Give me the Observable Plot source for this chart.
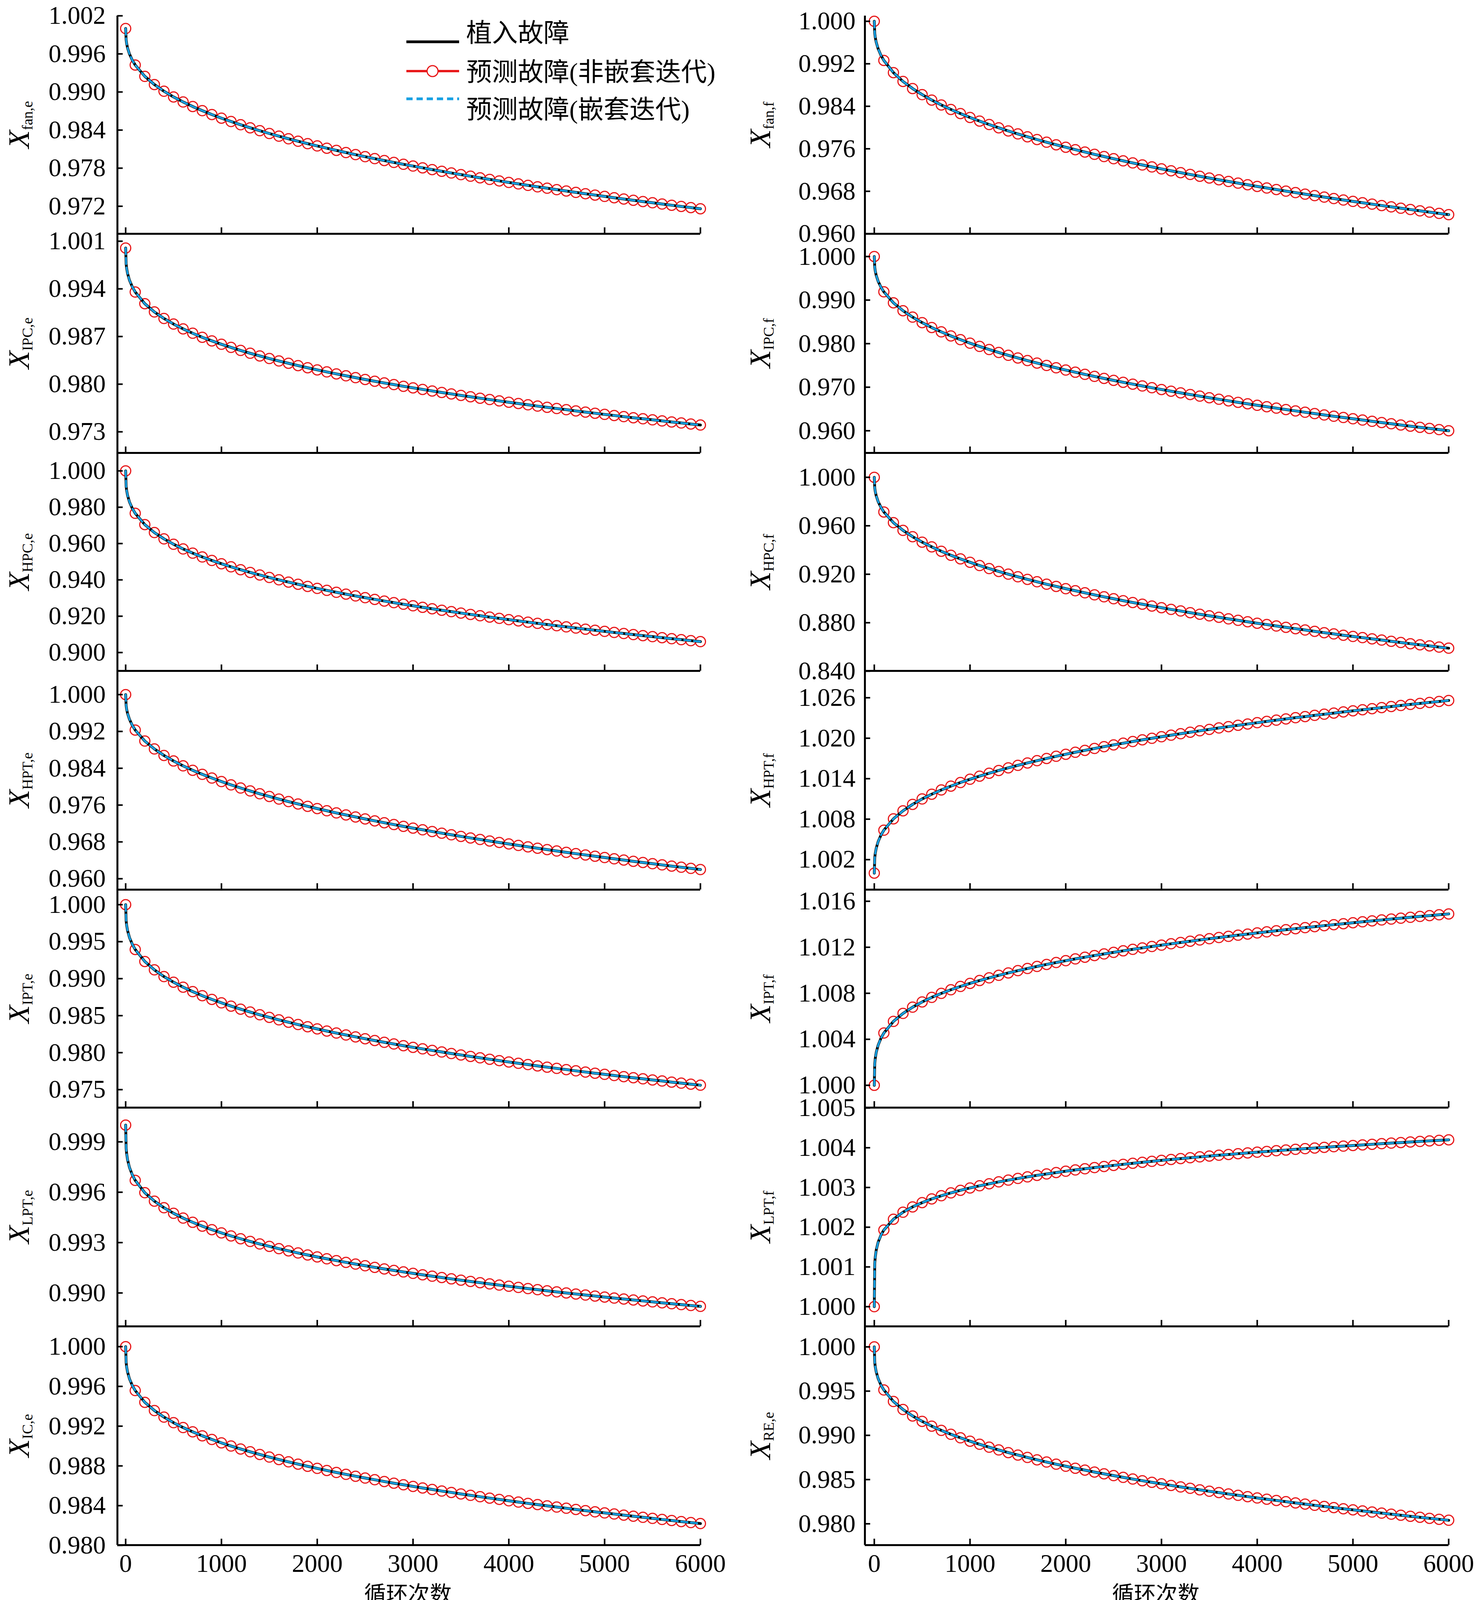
<!DOCTYPE html>
<html>
<head>
<meta charset="utf-8">
<script src="https://cdn.jsdelivr.net/npm/d3@7"></script>
<script src="https://cdn.jsdelivr.net/npm/@observablehq/plot@0.6"></script>
<style>
  html, body { margin: 0; padding: 0; background: #ffffff; overflow: hidden; }
  #chart { position: relative; width: 3780px; height: 4158px; background: #ffffff; overflow: hidden; }
  #chart svg { position: absolute; overflow: visible; }
</style>
</head>
<body>
<div id="chart"></div>
<script>
// ---------- data ----------
const cycles = [0,5,10,20,40,70,
  100,200,300,400,500,600,700,800,900,1000,
  1100,1200,1300,1400,1500,1600,1700,1800,1900,2000,
  2100,2200,2300,2400,2500,2600,2700,2800,2900,3000,
  3100,3200,3300,3400,3500,3600,3700,3800,3900,4000,
  4100,4200,4300,4400,4500,4600,4700,4800,4900,5000,
  5100,5200,5300,5400,5500,5600,5700,5800,5900,6000];

const xTicks = [0,1000,2000,3000,4000,5000,6000];

// left column
const fanE = [1.00000,0.99821,0.99766,0.99693,0.99598,0.99499,
  0.99425,0.99246,0.99117,0.99012,0.98922,0.98843,0.98771,0.98706,0.98645,0.98588,
  0.98535,0.98484,0.98436,0.98390,0.98346,0.98304,0.98263,0.98224,0.98186,0.98150,
  0.98114,0.98080,0.98046,0.98013,0.97981,0.97950,0.97920,0.97890,0.97861,0.97833,
  0.97805,0.97777,0.97751,0.97724,0.97698,0.97673,0.97648,0.97623,0.97599,0.97575,
  0.97552,0.97529,0.97506,0.97484,0.97461,0.97440,0.97418,0.97397,0.97376,0.97355,
  0.97334,0.97314,0.97294,0.97274,0.97255,0.97235,0.97216,0.97197,0.97179,0.97160];
const ipcE = [1.00000,0.99767,0.99705,0.99626,0.99527,0.99428,
  0.99354,0.99182,0.99061,0.98965,0.98883,0.98812,0.98748,0.98689,0.98636,0.98586,
  0.98540,0.98496,0.98454,0.98415,0.98377,0.98341,0.98307,0.98273,0.98241,0.98210,
  0.98180,0.98151,0.98123,0.98096,0.98069,0.98043,0.98018,0.97994,0.97969,0.97946,
  0.97923,0.97900,0.97878,0.97857,0.97835,0.97815,0.97794,0.97774,0.97754,0.97735,
  0.97716,0.97697,0.97678,0.97660,0.97642,0.97625,0.97607,0.97590,0.97573,0.97556,
  0.97540,0.97523,0.97507,0.97492,0.97476,0.97460,0.97445,0.97430,0.97415,0.97400];
const hpcE = [1.00000,0.99156,0.98932,0.98648,0.98289,0.97930,
  0.97664,0.97043,0.96605,0.96257,0.95962,0.95703,0.95472,0.95262,0.95068,0.94889,
  0.94720,0.94561,0.94411,0.94269,0.94133,0.94003,0.93878,0.93758,0.93642,0.93530,
  0.93422,0.93317,0.93215,0.93116,0.93020,0.92926,0.92835,0.92746,0.92659,0.92574,
  0.92490,0.92409,0.92329,0.92251,0.92174,0.92099,0.92025,0.91952,0.91881,0.91811,
  0.91742,0.91674,0.91607,0.91541,0.91476,0.91412,0.91349,0.91287,0.91226,0.91165,
  0.91105,0.91046,0.90988,0.90931,0.90874,0.90818,0.90763,0.90708,0.90654,0.90600];
const hptE = [1.00000,0.99761,0.99686,0.99589,0.99462,0.99330,
  0.99230,0.98991,0.98819,0.98678,0.98558,0.98452,0.98356,0.98268,0.98187,0.98111,
  0.98039,0.97971,0.97907,0.97846,0.97787,0.97731,0.97676,0.97624,0.97573,0.97524,
  0.97477,0.97430,0.97386,0.97342,0.97299,0.97257,0.97217,0.97177,0.97138,0.97100,
  0.97063,0.97026,0.96990,0.96955,0.96920,0.96886,0.96853,0.96820,0.96788,0.96756,
  0.96724,0.96693,0.96663,0.96633,0.96603,0.96574,0.96545,0.96517,0.96489,0.96461,
  0.96433,0.96406,0.96379,0.96353,0.96327,0.96301,0.96275,0.96250,0.96225,0.96200];
const iptE = [1.00000,0.99781,0.99723,0.99649,0.99556,0.99463,
  0.99394,0.99232,0.99119,0.99028,0.98952,0.98885,0.98825,0.98770,0.98720,0.98673,
  0.98629,0.98588,0.98549,0.98512,0.98477,0.98443,0.98411,0.98380,0.98350,0.98321,
  0.98292,0.98265,0.98239,0.98213,0.98188,0.98164,0.98140,0.98117,0.98094,0.98072,
  0.98051,0.98030,0.98009,0.97988,0.97969,0.97949,0.97930,0.97911,0.97892,0.97874,
  0.97856,0.97839,0.97821,0.97804,0.97787,0.97771,0.97754,0.97738,0.97722,0.97707,
  0.97691,0.97676,0.97661,0.97646,0.97631,0.97617,0.97602,0.97588,0.97574,0.97560];
const lptE = [1.000000,0.998618,0.998310,0.997934,0.997474,0.997029,
  0.996706,0.995972,0.995470,0.995076,0.994746,0.994461,0.994208,0.993979,0.993770,0.993577,
  0.993397,0.993228,0.993069,0.992918,0.992775,0.992639,0.992508,0.992383,0.992263,0.992147,
  0.992035,0.991927,0.991822,0.991720,0.991622,0.991526,0.991432,0.991342,0.991253,0.991167,
  0.991082,0.991000,0.990919,0.990840,0.990763,0.990687,0.990613,0.990540,0.990468,0.990398,
  0.990329,0.990261,0.990195,0.990129,0.990065,0.990001,0.989938,0.989877,0.989816,0.989756,
  0.989697,0.989639,0.989582,0.989525,0.989469,0.989414,0.989359,0.989306,0.989252,0.989200];
const icE = [1.00000,0.99840,0.99798,0.99744,0.99676,0.99608,
  0.99558,0.99440,0.99357,0.99291,0.99235,0.99186,0.99143,0.99103,0.99066,0.99032,
  0.99000,0.98970,0.98942,0.98915,0.98889,0.98864,0.98841,0.98818,0.98796,0.98775,
  0.98754,0.98734,0.98715,0.98696,0.98678,0.98661,0.98643,0.98626,0.98610,0.98594,
  0.98578,0.98563,0.98547,0.98533,0.98518,0.98504,0.98490,0.98476,0.98463,0.98449,
  0.98436,0.98423,0.98411,0.98398,0.98386,0.98374,0.98362,0.98350,0.98338,0.98327,
  0.98316,0.98305,0.98294,0.98283,0.98272,0.98261,0.98251,0.98240,0.98230,0.98220];

// right column
const fanF = [1.00000,0.99771,0.99700,0.99606,0.99484,0.99358,
  0.99263,0.99034,0.98868,0.98734,0.98619,0.98517,0.98425,0.98341,0.98263,0.98190,
  0.98122,0.98057,0.97995,0.97936,0.97880,0.97826,0.97774,0.97724,0.97675,0.97629,
  0.97583,0.97539,0.97496,0.97454,0.97413,0.97373,0.97334,0.97296,0.97259,0.97222,
  0.97186,0.97151,0.97117,0.97083,0.97050,0.97017,0.96985,0.96954,0.96923,0.96892,
  0.96862,0.96833,0.96803,0.96775,0.96746,0.96718,0.96691,0.96663,0.96636,0.96610,
  0.96584,0.96558,0.96532,0.96507,0.96481,0.96457,0.96432,0.96408,0.96384,0.96360];
const ipcF = [1.00000,0.99748,0.99670,0.99568,0.99433,0.99295,
  0.99190,0.98938,0.98756,0.98609,0.98482,0.98370,0.98270,0.98177,0.98091,0.98011,
  0.97936,0.97865,0.97797,0.97732,0.97671,0.97611,0.97554,0.97499,0.97446,0.97394,
  0.97344,0.97295,0.97248,0.97202,0.97157,0.97113,0.97070,0.97029,0.96988,0.96947,
  0.96908,0.96870,0.96832,0.96795,0.96758,0.96723,0.96687,0.96653,0.96619,0.96585,
  0.96552,0.96519,0.96487,0.96456,0.96425,0.96394,0.96363,0.96333,0.96304,0.96275,
  0.96246,0.96217,0.96189,0.96161,0.96133,0.96106,0.96079,0.96053,0.96026,0.96000];
const hpcF = [1.0000,0.9911,0.9884,0.9848,0.9800,0.9752,
  0.9714,0.9626,0.9562,0.9510,0.9465,0.9426,0.9390,0.9357,0.9327,0.9299,
  0.9272,0.9247,0.9223,0.9201,0.9179,0.9158,0.9138,0.9118,0.9100,0.9081,
  0.9064,0.9047,0.9030,0.9014,0.8998,0.8982,0.8967,0.8953,0.8938,0.8924,
  0.8910,0.8897,0.8883,0.8870,0.8857,0.8845,0.8832,0.8820,0.8808,0.8796,
  0.8785,0.8773,0.8762,0.8751,0.8740,0.8729,0.8718,0.8708,0.8697,0.8687,
  0.8677,0.8667,0.8657,0.8647,0.8637,0.8627,0.8618,0.8609,0.8599,0.8590];
const hptF = [1.00000,1.00230,1.00291,1.00368,1.00466,1.00564,
  1.00636,1.00805,1.00924,1.01019,1.01100,1.01170,1.01233,1.01290,1.01343,1.01392,
  1.01438,1.01481,1.01522,1.01561,1.01598,1.01633,1.01667,1.01700,1.01732,1.01762,
  1.01792,1.01820,1.01848,1.01875,1.01901,1.01926,1.01951,1.01976,1.01999,1.02022,
  1.02045,1.02067,1.02089,1.02110,1.02131,1.02152,1.02172,1.02192,1.02211,1.02230,
  1.02249,1.02268,1.02286,1.02304,1.02321,1.02339,1.02356,1.02373,1.02390,1.02406,
  1.02422,1.02438,1.02454,1.02470,1.02485,1.02501,1.02516,1.02531,1.02545,1.02560];
const iptF = [1.000000,1.001906,1.002331,1.002850,1.003484,1.004098,
  1.004545,1.005557,1.006250,1.006794,1.007248,1.007642,1.007991,1.008306,1.008595,1.008862,
  1.009110,1.009343,1.009562,1.009770,1.009968,1.010156,1.010336,1.010509,1.010675,1.010835,
  1.010989,1.011138,1.011283,1.011423,1.011559,1.011691,1.011820,1.011945,1.012068,1.012187,
  1.012303,1.012417,1.012528,1.012637,1.012744,1.012848,1.012951,1.013052,1.013150,1.013247,
  1.013342,1.013436,1.013528,1.013618,1.013707,1.013795,1.013881,1.013966,1.014050,1.014133,
  1.014214,1.014294,1.014374,1.014452,1.014529,1.014605,1.014680,1.014754,1.014828,1.014900];
const lptF = [1.000000,1.001092,1.001246,1.001421,1.001621,1.001803,
  1.001929,1.002201,1.002377,1.002511,1.002619,1.002712,1.002792,1.002864,1.002929,1.002988,
  1.003043,1.003093,1.003141,1.003185,1.003227,1.003267,1.003305,1.003341,1.003376,1.003409,
  1.003441,1.003471,1.003500,1.003529,1.003556,1.003583,1.003609,1.003634,1.003658,1.003682,
  1.003705,1.003727,1.003749,1.003770,1.003791,1.003812,1.003831,1.003851,1.003870,1.003889,
  1.003907,1.003925,1.003942,1.003960,1.003977,1.003993,1.004010,1.004026,1.004041,1.004057,
  1.004072,1.004087,1.004102,1.004117,1.004131,1.004145,1.004159,1.004173,1.004187,1.004200];
const reE = [1.00000,0.99824,0.99777,0.99718,0.99643,0.99568,
  0.99513,0.99383,0.99292,0.99219,0.99158,0.99104,0.99056,0.99012,0.98972,0.98934,
  0.98899,0.98866,0.98835,0.98805,0.98777,0.98750,0.98723,0.98698,0.98674,0.98651,
  0.98628,0.98607,0.98585,0.98565,0.98545,0.98525,0.98506,0.98487,0.98469,0.98452,
  0.98434,0.98417,0.98401,0.98384,0.98368,0.98353,0.98337,0.98322,0.98307,0.98292,
  0.98278,0.98264,0.98250,0.98236,0.98223,0.98209,0.98196,0.98183,0.98170,0.98158,
  0.98145,0.98133,0.98121,0.98109,0.98097,0.98085,0.98074,0.98062,0.98051,0.98040];

// y tick values per panel
const ticksFanE = [0.972,0.978,0.984,0.990,0.996,1.002];
const ticksIpcE = [0.973,0.980,0.987,0.994,1.001];
const ticksHpcE = [0.900,0.920,0.940,0.960,0.980,1.000];
const ticksHptE = [0.960,0.968,0.976,0.984,0.992,1.000];
const ticksIptE = [0.975,0.980,0.985,0.990,0.995,1.000];
const ticksLptE = [0.990,0.993,0.996,0.999];
const ticksIcE  = [0.980,0.984,0.988,0.992,0.996,1.000];
const ticksFanF = [0.960,0.968,0.976,0.984,0.992,1.000];
const ticksIpcF = [0.960,0.970,0.980,0.990,1.000];
const ticksHpcF = [0.840,0.880,0.920,0.960,1.000];
const ticksHptF = [1.002,1.008,1.014,1.020,1.026];
const ticksIptF = [1.000,1.004,1.008,1.012,1.016];
const ticksLptF = [1.000,1.001,1.002,1.003,1.004,1.005];
const ticksReE  = [0.980,0.985,0.990,0.995,1.000];

// y-axis subscripts
const subsLeft  = ["fan,e","IPC,e","HPC,e","HPT,e","IPT,e","LPT,e","IC,e"];
const subsRight = ["fan,f","IPC,f","HPC,f","HPT,f","IPT,f","LPT,f","RE,e"];

const legendLabels = ["植入故障","预测故障(非嵌套迭代)","预测故障(嵌套迭代)"];
const xLabel = "循环次数";

// ---------- panel setup ----------
const panels = [
  {col:0,row:0,sub:subsLeft[0],values:fanE,ticks:ticksFanE,domain:[0.96766,1.002]},
  {col:0,row:1,sub:subsLeft[1],values:ipcE,ticks:ticksIpcE,domain:[0.96990,1.00209]},
  {col:0,row:2,sub:subsLeft[2],values:hpcE,ticks:ticksHpcE,domain:[0.88989,1.00989]},
  {col:0,row:3,sub:subsLeft[3],values:hptE,ticks:ticksHptE,domain:[0.95763,1.00515]},
  {col:0,row:4,sub:subsLeft[4],values:iptE,ticks:ticksIptE,domain:[0.97257,1.00203]},
  {col:0,row:5,sub:subsLeft[5],values:lptE,ticks:ticksLptE,domain:[0.98801,1.00104]},
  {col:0,row:6,sub:subsLeft[6],values:icE, ticks:ticksIcE, domain:[0.98003,1.00204]},
  {col:1,row:0,sub:subsRight[0],values:fanF,ticks:ticksFanF,domain:[0.96,1.00103]},
  {col:1,row:1,sub:subsRight[1],values:ipcF,ticks:ticksIpcF,domain:[0.95491,1.00522]},
  {col:1,row:2,sub:subsRight[2],values:hpcF,ticks:ticksHpcF,domain:[0.84026,1.02011]},
  {col:1,row:3,sub:subsRight[3],values:hptF,ticks:ticksHptF,domain:[0.99755,1.02998]},
  {col:1,row:4,sub:subsRight[4],values:iptF,ticks:ticksIptF,domain:[0.99806,1.01701]},
  {col:1,row:5,sub:subsRight[5],values:lptF,ticks:ticksLptF,domain:[0.999504,1.00501]},
  {col:1,row:6,sub:subsRight[6],values:reE, ticks:ticksReE, domain:[0.97759,1.00232]}
];

const rowTop    = [40,598,1159,1717,2277,2835,3395];
const rowBottom = [598,1159,1717,2277,2835,3395,3955];
const colLeft = [0,1890];
const colWidth = 1890;
const colMarginLeft = [300,323];
const colMarginRight = [98,73];
const colXDomain = [[-86,6000],[-98,6000]];
const colTickPad = [30,24];
const colLabelX = [74,81];

const RED = "#e8191b", BLUE = "#17a0e3", BLACK = "#000000";
const chart = document.getElementById("chart");

for (const p of panels) {
  const data = cycles.map((t, i) => ({t, v: p.values[i]}));
  const markers = data.filter(d => d.t % 100 === 0);
  const h = rowBottom[p.row] - rowTop[p.row];
  const xd = colXDomain[p.col];
  const last = p.row === 6;
  const marks = [
    Plot.line(data, {x: "t", y: "v", stroke: RED, strokeWidth: 4}),
    Plot.dot(markers, {x: "t", y: "v", r: 13, stroke: RED, strokeWidth: 3, fill: "none"}),
    Plot.line(data, {x: "t", y: "v", stroke: BLACK, strokeWidth: 7}),
    Plot.line(data, {x: "t", y: "v", stroke: BLUE, strokeWidth: 5, strokeDasharray: "16,9"}),
    Plot.ruleX([xd[0]], {stroke: BLACK, strokeWidth: 5}),
    Plot.ruleY([p.domain[0]], {stroke: BLACK, strokeWidth: 5}),
    Plot.axisY(p.ticks, {anchor: "left", tickSize: -14, strokeWidth: 4, tickFormat: () => "", label: null}),
    Plot.axisY(p.ticks, {anchor: "left", tickSize: 0, tickPadding: colTickPad[p.col], tickFormat: d3.format(".3f"), label: null}),
    Plot.axisX(xTicks, {anchor: "bottom", tickSize: -16, strokeWidth: 4, tickFormat: () => "", label: null})
  ];
  if (last) {
    marks.push(Plot.axisX(xTicks, {anchor: "bottom", tickSize: 0, tickPadding: 22, tickFormat: d3.format("d"), label: null}));
  }

  const svg = Plot.plot({
    width: colWidth,
    height: h,
    marginTop: 0,
    marginBottom: 0,
    marginLeft: colMarginLeft[p.col],
    marginRight: colMarginRight[p.col],
    style: {background: "none", overflow: "visible", color: "#000", fontFamily: "'Liberation Serif', 'Times New Roman', serif", fontSize: "65px"},
    x: {domain: xd},
    y: {domain: p.domain},
    marks
  });
  svg.style.position = "absolute";
  svg.style.left = colLeft[p.col] + "px";
  svg.style.top = rowTop[p.row] + "px";
  svg.style.maxWidth = "none";
  chart.appendChild(svg);

  const s = d3.select(svg);
  const lab = s.append("text")
    .attr("transform", `translate(${colLabelX[p.col]},${h / 2}) rotate(-90)`)
    .attr("text-anchor", "middle")
    .attr("font-family", "'Liberation Serif', 'Times New Roman', serif")
    .attr("fill", "#000");
  lab.append("tspan").attr("font-style", "italic").attr("font-size", 76).text("X");
  lab.append("tspan").attr("font-size", 38).attr("dy", 9).text(p.sub);
}

// ---------- overlay: legend and x-axis titles ----------
const lg = d3.select(chart).append("svg")
  .attr("width", 3780).attr("height", 4158)
  .style("left", "0px").style("top", "0px").style("pointer-events", "none");
const legFont = "'Liberation Serif', 'Noto Sans CJK SC', serif";
const legRows = [
  {lineY: 107, textY: 84, label: legendLabels[0], kind: "solid"},
  {lineY: 182, textY: 184, label: legendLabels[1], kind: "marker"},
  {lineY: 253, textY: 280, label: legendLabels[2], kind: "dash"}
];
for (const r of legRows) {
  if (r.kind === "solid") {
    lg.append("line").attr("x1", 1040).attr("x2", 1175).attr("y1", r.lineY).attr("y2", r.lineY)
      .attr("stroke", BLACK).attr("stroke-width", 7);
  } else if (r.kind === "marker") {
    lg.append("line").attr("x1", 1040).attr("x2", 1175).attr("y1", r.lineY).attr("y2", r.lineY)
      .attr("stroke", RED).attr("stroke-width", 6);
    lg.append("circle").attr("cx", 1107).attr("cy", r.lineY).attr("r", 14)
      .attr("fill", "#fff").attr("stroke", RED).attr("stroke-width", 3);
  } else {
    lg.append("line").attr("x1", 1040).attr("x2", 1175).attr("y1", r.lineY).attr("y2", r.lineY)
      .attr("stroke", BLUE).attr("stroke-width", 7).attr("stroke-dasharray", "16,10");
  }
  lg.append("text").attr("x", 1193).attr("y", r.textY)
    .attr("dominant-baseline", "central")
    .attr("font-family", legFont).attr("font-size", 66).attr("fill", "#000")
    .text(r.label);
}
// x-axis titles under each column
for (const cx of [1044, 2958]) {
  lg.append("text")
    .attr("x", cx)
    .attr("y", 4100)
    .attr("text-anchor", "middle")
    .attr("font-family", "'Noto Sans CJK SC', sans-serif")
    .attr("font-size", 56)
    .attr("fill", "#000")
    .text(xLabel);
}
</script>
</body>
</html>
